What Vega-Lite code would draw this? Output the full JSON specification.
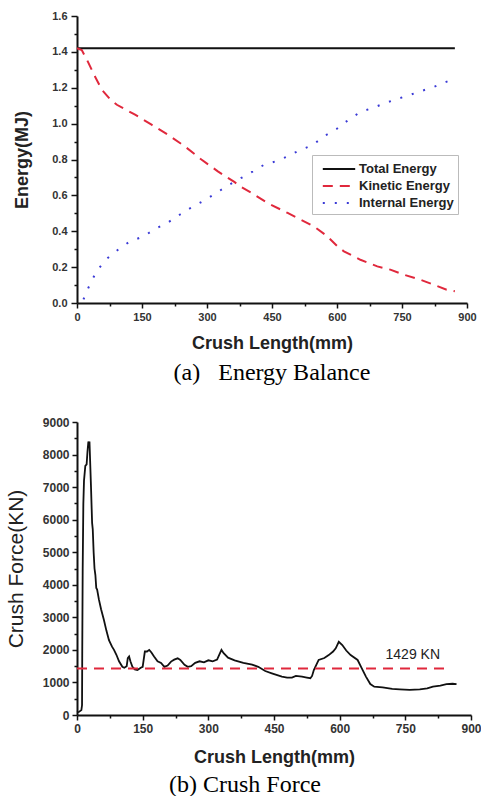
{
  "$schema": "https://vega.github.io/schema/vega-lite/v6.json",
  "background": "white",
  "padding": {"left": 5, "top": 10, "right": 4, "bottom": 0},
  "columns": 1,
  "spacing": 31,
  "config": {
    "view": {"stroke": null},
    "axis": {
      "grid": false,
      "domainColor": "#111",
      "domainWidth": 2,
      "tickColor": "#111",
      "tickWidth": 1.5,
      "labelFont": "Liberation Sans",
      "labelFontWeight": "bold",
      "labelColor": "#333",
      "labelPadding": 3,
      "labelOverlap": false,
      "labelFlush": false,
      "titleFont": "Liberation Sans",
      "titleFontWeight": "bold",
      "titleColor": "#222"
    }
  },
  "datasets": {
    "energy": [
      {"series": "Total Energy", "x": 0, "y": 1.42},
      {"series": "Total Energy", "x": 872, "y": 1.42},
      {"series": "Kinetic Energy", "x": 0, "y": 1.42},
      {"series": "Kinetic Energy", "x": 11, "y": 1.41},
      {"series": "Kinetic Energy", "x": 23, "y": 1.356},
      {"series": "Kinetic Energy", "x": 40, "y": 1.27},
      {"series": "Kinetic Energy", "x": 57, "y": 1.19},
      {"series": "Kinetic Energy", "x": 75, "y": 1.14},
      {"series": "Kinetic Energy", "x": 92, "y": 1.105},
      {"series": "Kinetic Energy", "x": 134, "y": 1.05},
      {"series": "Kinetic Energy", "x": 172, "y": 0.994},
      {"series": "Kinetic Energy", "x": 210, "y": 0.938},
      {"series": "Kinetic Energy", "x": 249, "y": 0.873},
      {"series": "Kinetic Energy", "x": 287, "y": 0.8},
      {"series": "Kinetic Energy", "x": 325, "y": 0.734},
      {"series": "Kinetic Energy", "x": 363, "y": 0.675},
      {"series": "Kinetic Energy", "x": 380, "y": 0.645},
      {"series": "Kinetic Energy", "x": 402, "y": 0.615},
      {"series": "Kinetic Energy", "x": 440, "y": 0.557},
      {"series": "Kinetic Energy", "x": 486, "y": 0.502},
      {"series": "Kinetic Energy", "x": 517, "y": 0.464},
      {"series": "Kinetic Energy", "x": 547, "y": 0.427},
      {"series": "Kinetic Energy", "x": 578, "y": 0.371},
      {"series": "Kinetic Energy", "x": 601, "y": 0.316},
      {"series": "Kinetic Energy", "x": 616, "y": 0.288},
      {"series": "Kinetic Energy", "x": 654, "y": 0.241},
      {"series": "Kinetic Energy", "x": 693, "y": 0.204},
      {"series": "Kinetic Energy", "x": 723, "y": 0.186},
      {"series": "Kinetic Energy", "x": 754, "y": 0.158},
      {"series": "Kinetic Energy", "x": 792, "y": 0.13},
      {"series": "Kinetic Energy", "x": 823, "y": 0.102},
      {"series": "Kinetic Energy", "x": 853, "y": 0.074},
      {"series": "Kinetic Energy", "x": 872, "y": 0.065},
      {"series": "Internal Energy", "x": 15, "y": 0.02},
      {"series": "Internal Energy", "x": 19, "y": 0.046},
      {"series": "Internal Energy", "x": 31, "y": 0.11},
      {"series": "Internal Energy", "x": 46, "y": 0.18},
      {"series": "Internal Energy", "x": 69, "y": 0.247},
      {"series": "Internal Energy", "x": 96, "y": 0.3},
      {"series": "Internal Energy", "x": 122, "y": 0.343},
      {"series": "Internal Energy", "x": 153, "y": 0.371},
      {"series": "Internal Energy", "x": 180, "y": 0.412},
      {"series": "Internal Energy", "x": 210, "y": 0.449},
      {"series": "Internal Energy", "x": 237, "y": 0.492},
      {"series": "Internal Energy", "x": 264, "y": 0.533},
      {"series": "Internal Energy", "x": 294, "y": 0.572},
      {"series": "Internal Energy", "x": 321, "y": 0.613},
      {"series": "Internal Energy", "x": 348, "y": 0.654},
      {"series": "Internal Energy", "x": 379, "y": 0.697},
      {"series": "Internal Energy", "x": 406, "y": 0.734},
      {"series": "Internal Energy", "x": 432, "y": 0.771},
      {"series": "Internal Energy", "x": 459, "y": 0.79},
      {"series": "Internal Energy", "x": 486, "y": 0.817},
      {"series": "Internal Energy", "x": 513, "y": 0.851},
      {"series": "Internal Energy", "x": 543, "y": 0.879},
      {"series": "Internal Energy", "x": 570, "y": 0.929},
      {"series": "Internal Energy", "x": 599, "y": 0.97},
      {"series": "Internal Energy", "x": 627, "y": 1.022},
      {"series": "Internal Energy", "x": 654, "y": 1.065},
      {"series": "Internal Energy", "x": 685, "y": 1.09},
      {"series": "Internal Energy", "x": 712, "y": 1.115},
      {"series": "Internal Energy", "x": 738, "y": 1.137},
      {"series": "Internal Energy", "x": 765, "y": 1.157},
      {"series": "Internal Energy", "x": 792, "y": 1.18},
      {"series": "Internal Energy", "x": 821, "y": 1.202},
      {"series": "Internal Energy", "x": 849, "y": 1.23},
      {"series": "Internal Energy", "x": 860, "y": 1.24}
    ],
    "force": [
      {"x": 0, "y": 80}, {"x": 5, "y": 100}, {"x": 10, "y": 150}, {"x": 11.5, "y": 300},
      {"x": 12, "y": 2000}, {"x": 13, "y": 4500}, {"x": 14.5, "y": 6500}, {"x": 16, "y": 7200},
      {"x": 19, "y": 7650}, {"x": 22, "y": 7700}, {"x": 24, "y": 8100}, {"x": 26, "y": 8400},
      {"x": 27.5, "y": 8300}, {"x": 28.5, "y": 8400}, {"x": 30, "y": 7800}, {"x": 32, "y": 7000},
      {"x": 34.5, "y": 5900}, {"x": 36, "y": 5700}, {"x": 38, "y": 5000}, {"x": 40, "y": 4500},
      {"x": 42, "y": 4300}, {"x": 44, "y": 3900}, {"x": 46, "y": 3850}, {"x": 50, "y": 3550},
      {"x": 55, "y": 3250}, {"x": 61.5, "y": 2920}, {"x": 67, "y": 2600}, {"x": 73, "y": 2300},
      {"x": 80, "y": 2100}, {"x": 84.5, "y": 2000}, {"x": 90, "y": 1850}, {"x": 96, "y": 1650},
      {"x": 103.6, "y": 1480}, {"x": 108, "y": 1450}, {"x": 113.5, "y": 1500}, {"x": 116, "y": 1750},
      {"x": 119, "y": 1800}, {"x": 122, "y": 1650}, {"x": 126.6, "y": 1480}, {"x": 132, "y": 1400},
      {"x": 138, "y": 1380}, {"x": 145.7, "y": 1450}, {"x": 150, "y": 1480}, {"x": 155, "y": 1950},
      {"x": 160, "y": 1950}, {"x": 165, "y": 2000}, {"x": 170, "y": 1920}, {"x": 176, "y": 1800},
      {"x": 184, "y": 1650}, {"x": 192, "y": 1600}, {"x": 199.6, "y": 1480}, {"x": 207, "y": 1520},
      {"x": 214.8, "y": 1640}, {"x": 222, "y": 1700}, {"x": 230, "y": 1740}, {"x": 236, "y": 1690},
      {"x": 245.6, "y": 1540}, {"x": 253, "y": 1480}, {"x": 260.8, "y": 1500}, {"x": 270, "y": 1600},
      {"x": 280, "y": 1650}, {"x": 290, "y": 1620}, {"x": 300, "y": 1680}, {"x": 310, "y": 1650},
      {"x": 320, "y": 1700}, {"x": 330, "y": 2000}, {"x": 335, "y": 1900}, {"x": 345, "y": 1760},
      {"x": 360, "y": 1680}, {"x": 380, "y": 1600}, {"x": 400, "y": 1550}, {"x": 414, "y": 1480},
      {"x": 430, "y": 1350}, {"x": 445, "y": 1280}, {"x": 468, "y": 1180}, {"x": 480, "y": 1150},
      {"x": 491, "y": 1150}, {"x": 500, "y": 1200}, {"x": 514, "y": 1180}, {"x": 525, "y": 1150},
      {"x": 533, "y": 1130}, {"x": 537, "y": 1200}, {"x": 541, "y": 1380}, {"x": 552, "y": 1690},
      {"x": 565, "y": 1750}, {"x": 575, "y": 1840}, {"x": 585, "y": 1950}, {"x": 591, "y": 2050},
      {"x": 598, "y": 2250}, {"x": 606, "y": 2150}, {"x": 615, "y": 1980}, {"x": 625, "y": 1840},
      {"x": 641, "y": 1690}, {"x": 650, "y": 1450}, {"x": 660, "y": 1180}, {"x": 670, "y": 950},
      {"x": 679, "y": 870}, {"x": 698, "y": 850}, {"x": 720, "y": 800}, {"x": 737, "y": 790},
      {"x": 760, "y": 770}, {"x": 783, "y": 790}, {"x": 800, "y": 820}, {"x": 813, "y": 870},
      {"x": 830, "y": 900}, {"x": 844, "y": 950}, {"x": 858, "y": 960}, {"x": 867, "y": 950}
    ],
    "mean": [
      {"x": 0, "y": 1429},
      {"x": 845, "y": 1429}
    ],
    "note": [
      {"x": 767, "y": 1840, "label": "1429 KN"}
    ]
  },
  "concat": [
    {
      "width": 390,
      "height": 287,
      "title": {
        "text": "(a)\u00a0\u00a0\u00a0Energy Balance",
        "orient": "bottom",
        "anchor": "middle",
        "frame": "group",
        "font": "Liberation Serif",
        "fontSize": 24,
        "fontWeight": "normal",
        "color": "#000",
        "offset": 9
      },
      "data": {"name": "energy"},
      "mark": {"type": "line", "strokeWidth": 2},
      "encoding": {
        "x": {
          "field": "x",
          "type": "quantitative",
          "scale": {"domain": [0, 900], "nice": false},
          "axis": {
            "title": "Crush Length(mm)",
            "titleFontSize": 18,
            "titlePadding": 12,
            "labelFontSize": 11,
            "labelOverlap": false,
            "values": [0, 75, 150, 225, 300, 375, 450, 525, 600, 675, 750, 825, 900],
            "labelExpr": "datum.value % 150 === 0 ? datum.label : ''",
            "tickSize": {"condition": {"test": "datum.value % 150 === 0", "value": 5}, "value": 3}
          }
        },
        "y": {
          "field": "y",
          "type": "quantitative",
          "scale": {"domain": [0, 1.6], "nice": false},
          "axis": {
            "title": "Energy(MJ)",
            "titleFontSize": 18,
            "titlePadding": 20,
            "labelFontSize": 11,
            "labelPadding": 4,
            "labelOverlap": false,
            "format": ".1f",
            "values": [0, 0.1, 0.2, 0.3, 0.4, 0.5, 0.6, 0.7, 0.8, 0.9, 1.0, 1.1, 1.2, 1.3, 1.4, 1.5, 1.6],
            "labelExpr": "round(datum.value * 10) % 2 === 0 ? datum.label : ''",
            "tickSize": {"condition": {"test": "round(datum.value * 10) % 2 === 0", "value": 6}, "value": 3}
          }
        },
        "color": {
          "field": "series",
          "type": "nominal",
          "title": null,
          "scale": {
            "domain": ["Total Energy", "Kinetic Energy", "Internal Energy"],
            "range": ["#111111", "#e0283c", "#3a3ad6"]
          },
          "legend": {
            "orient": "none",
            "legendX": 235,
            "legendY": 139,
            "strokeColor": "#bbbbbb",
            "fillColor": "white",
            "padding": 4,
            "symbolType": "M-1.8,0H1.8",
            "symbolSize": 324,
            "symbolOffset": 13,
            "symbolStrokeWidth": 2,
            "labelFont": "Liberation Sans",
            "labelFontSize": 13,
            "labelFontWeight": "bold",
            "labelColor": "#222",
            "labelOffset": 10,
            "rowPadding": 0
          }
        },
        "strokeDash": {
          "field": "series",
          "type": "nominal",
          "title": null,
          "scale": {
            "domain": ["Total Energy", "Kinetic Energy", "Internal Energy"],
            "range": [[1, 0], [10, 7], [2, 10]]
          },
          "legend": {
            "orient": "none",
            "legendX": 235,
            "legendY": 139,
            "strokeColor": "#bbbbbb",
            "fillColor": "white",
            "padding": 4,
            "symbolType": "M-1.8,0H1.8",
            "symbolSize": 324,
            "symbolOffset": 13,
            "symbolStrokeWidth": 2,
            "labelFont": "Liberation Sans",
            "labelFontSize": 13,
            "labelFontWeight": "bold",
            "labelColor": "#222",
            "labelOffset": 10,
            "rowPadding": 0
          }
        }
      }
    },
    {
      "width": 394,
      "height": 293,
      "title": {
        "text": "(b) Crush Force",
        "orient": "bottom",
        "anchor": "middle",
        "frame": "group",
        "dx": -29,
        "font": "Liberation Serif",
        "fontSize": 24,
        "fontWeight": "normal",
        "color": "#000",
        "offset": 7
      },
      "encoding": {
        "x": {
          "field": "x",
          "type": "quantitative",
          "scale": {"domain": [0, 900], "nice": false},
          "axis": {
            "title": "Crush Length(mm)",
            "titleFontSize": 18,
            "titlePadding": 14,
            "labelFontSize": 12,
            "labelOverlap": false,
            "values": [0, 75, 150, 225, 300, 375, 450, 525, 600, 675, 750, 825, 900],
            "labelExpr": "datum.value % 150 === 0 ? datum.label : ''",
            "tickSize": {"condition": {"test": "datum.value % 150 === 0", "value": 5}, "value": 3}
          }
        },
        "y": {
          "field": "y",
          "type": "quantitative",
          "scale": {"domain": [0, 9000], "nice": false},
          "axis": {
            "title": "Crush Force(KN)",
            "titleFontSize": 21,
            "titleFontWeight": "normal",
            "titlePadding": 16,
            "labelFontSize": 12,
            "labelOverlap": false,
            "format": "d",
            "values": [0, 500, 1000, 1500, 2000, 2500, 3000, 3500, 4000, 4500, 5000, 5500, 6000, 6500, 7000, 7500, 8000, 8500, 9000],
            "labelExpr": "datum.value % 1000 === 0 ? datum.label : ''",
            "tickSize": {"condition": {"test": "datum.value % 1000 === 0", "value": 5}, "value": 3}
          }
        }
      },
      "layer": [
        {
          "data": {"name": "force"},
          "mark": {"type": "line", "color": "#111", "strokeWidth": 1.8}
        },
        {
          "data": {"name": "mean"},
          "mark": {"type": "line", "color": "#e0283c", "strokeWidth": 2, "strokeDash": [10, 7]}
        },
        {
          "data": {"name": "note"},
          "mark": {"type": "text", "font": "Liberation Sans", "fontSize": 14, "color": "#222", "align": "center", "baseline": "middle"},
          "encoding": {
            "text": {"field": "label"}
          }
        }
      ]
    }
  ]
}
